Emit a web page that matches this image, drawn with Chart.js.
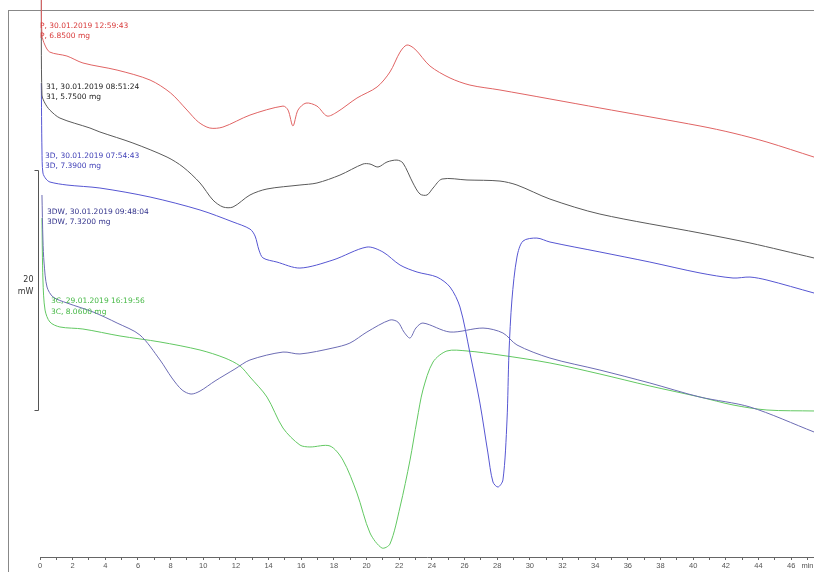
<!DOCTYPE html>
<html>
<head>
<meta charset="utf-8">
<script src="https://cdn.jsdelivr.net/npm/chart.js@4.4.1/dist/chart.umd.min.js"></script>
<style>
    html, body { margin: 0; padding: 0; background: #fff; }
    #frame { position: absolute; left: 8px; top: 10px; width: 805px; height: 561px; border-left: 1px solid #888; border-top: 1px solid #888; }
    #chart_container { position: absolute; left: 0; top: 0; width: 814px; height: 572px; }
</style>
</head>
<body>
<div id="frame"></div>
<div id="chart_container">
    <canvas id="dsc_chart" width="814" height="572"></canvas>
</div>
<script>
    // time in min, heat flow in mW (offset per curve as in the instrument plot)
    const curveP = [
        [0.08, 47.5], [0.12, 43.5], [0.3, 42.67], [0.6, 42.08], [1.65, 41.75], [2.63, 41.17],
        [4.72, 40.58], [6.74, 39.75], [8.0, 38.67], [9.0, 37.25], [9.7, 36.25], [10.4, 35.75],
        [11.2, 35.83], [12.86, 36.83], [14.88, 37.58], [15.19, 37.25], [15.49, 35.92], [15.8, 37.25],
        [16.29, 37.83], [16.96, 37.58], [17.58, 36.75], [18.19, 37.08], [19.41, 38.25], [20.64, 39.17],
        [21.43, 40.42], [22.05, 42.08], [22.47, 42.67], [22.96, 42.33], [23.88, 40.92], [25.11, 39.92],
        [26.33, 39.33], [28.17, 38.92], [34.29, 37.42], [40.42, 35.92], [42.44, 35.33], [44.52, 34.58],
        [47.4, 33.33]
    ];
    const curve31 = [
        [0.08, 47.5], [0.12, 38.5], [0.3, 37.83], [0.6, 37.25], [1.22, 36.58], [3.06, 35.75],
        [3.67, 35.42], [5.69, 34.5], [7.78, 33.33], [8.76, 32.5], [9.8, 31.17], [10.59, 29.75],
        [11.21, 29.17], [11.82, 29.17], [12.86, 30.17], [13.9, 30.67], [15.92, 31.0], [16.96, 31.17],
        [18.37, 31.83], [19.78, 32.75], [20.21, 32.75], [20.7, 32.5], [21.25, 32.92], [21.86, 33.08],
        [22.23, 32.83], [22.84, 31.17], [23.27, 30.25], [23.7, 30.17], [24.07, 30.75], [24.62, 31.5],
        [26.15, 31.42], [28.17, 31.33], [29.21, 31.0], [31.23, 29.83], [34.29, 28.58], [40.42, 27.0],
        [43.48, 26.17], [47.4, 24.92]
    ];
    const curve3D = [
        [0.08, 39.5], [0.12, 33.92], [0.18, 32.0], [0.37, 31.5], [0.61, 31.25], [1.65, 31.0],
        [3.67, 30.75], [6.74, 30.0], [9.8, 28.92], [11.82, 27.92], [12.86, 27.33], [13.17, 26.75],
        [13.41, 25.58], [13.66, 24.92], [14.51, 24.58], [15.92, 24.08], [17.94, 24.75], [20.02, 25.83],
        [21.0, 25.42], [22.05, 24.33], [23.09, 23.75], [24.31, 23.33], [25.11, 22.5], [25.72, 20.83],
        [26.33, 17.0], [26.94, 12.83], [27.43, 8.67], [27.74, 6.25], [28.05, 5.83], [28.35, 6.42],
        [28.6, 11.42], [28.72, 17.0], [28.9, 21.42], [29.21, 25.0], [29.58, 26.33], [30.43, 26.58],
        [31.23, 26.25], [34.29, 25.42], [37.35, 24.58], [40.42, 23.67], [42.44, 23.25], [43.48, 23.33],
        [44.52, 23.08], [47.4, 22.0]
    ];
    const curve3DW = [
        [0.12, 30.17], [0.18, 26.42], [0.25, 24.5], [0.43, 22.5], [0.8, 21.67], [1.65, 21.17],
        [3.25, 20.42], [4.72, 19.5], [6.12, 18.5], [7.35, 16.42], [8.08, 14.92], [8.7, 13.92],
        [9.25, 13.58], [9.8, 13.83], [10.72, 14.67], [11.94, 15.67], [12.86, 16.42], [14.88, 17.08],
        [15.92, 16.92], [17.94, 17.42], [18.98, 17.83], [20.02, 18.75], [21.43, 19.75], [21.92, 19.58],
        [22.29, 18.75], [22.66, 18.25], [23.02, 19.08], [23.45, 19.5], [25.11, 18.75], [27.13, 19.08],
        [28.35, 18.67], [29.21, 17.67], [31.23, 16.58], [34.29, 15.58], [37.35, 14.5], [40.42, 13.33],
        [43.48, 12.5], [47.4, 10.42]
    ];
    const curve3C = [
        [0.12, 28.25], [0.18, 23.08], [0.31, 20.58], [0.61, 19.58], [1.22, 19.17], [2.63, 19.0],
        [4.9, 18.42], [7.35, 17.92], [9.8, 17.25], [11.33, 16.58], [12.25, 15.92], [12.86, 15.0],
        [13.9, 13.33], [14.88, 10.75], [15.92, 9.33], [16.53, 9.17], [17.76, 9.25], [18.55, 8.08],
        [19.41, 5.33], [20.21, 2.0], [20.94, 0.75], [21.43, 1.08], [22.05, 4.17], [22.66, 8.08],
        [23.09, 11.42], [23.45, 13.92], [24.07, 16.25], [24.92, 17.17], [26.15, 17.17], [28.17, 16.83],
        [31.23, 16.17], [34.29, 15.25], [37.35, 14.25], [40.42, 13.33], [42.44, 12.67], [44.52, 12.25],
        [47.4, 12.17]
    ];

    const tickMinutes = [0, 1, 2, 3, 4, 5, 6, 7, 8, 9, 10, 11, 12, 13, 14, 15, 16, 17, 18, 19, 20, 21, 22, 23,
        24, 25, 26, 27, 28, 29, 30, 31, 32, 33, 34, 35, 36, 37, 38, 39, 40, 41, 42, 43, 44, 45, 46, 47];
    const labelledMinutes = [0, 2, 4, 6, 8, 10, 12, 14, 16, 18, 20, 22, 24, 26, 28, 30, 32, 34, 36, 38, 40, 42, 44, 46];
    const unitLabel = 'min';

    const curveLabels = [
        { lines: ['P, 30.01.2019 12:59:43', 'P, 6.8500 mg'], color: '#d83a3a', at: [0.0, 44.25] },
        { lines: ['31, 30.01.2019 08:51:24', '31, 5.7500 mg'], color: '#222222', at: [0.37, 39.17] },
        { lines: ['3D, 30.01.2019 07:54:43', '3D, 7.3900 mg'], color: '#4242b8', at: [0.31, 33.42] },
        { lines: ['3DW, 30.01.2019 09:48:04', '3DW, 7.3200 mg'], color: '#33338c', at: [0.43, 28.75] },
        { lines: ['3C, 29.01.2019 16:19:56', '3C, 8.0600 mg'], color: '#45b845', at: [0.67, 21.33] }
    ];
    const scaleBar = { from: 12.25, span: 20, text: ['20', 'mW'] };

    const toPoints = arr => arr.map(p => ({ x: p[0], y: p[1] }));

    const annotations = {
        id: 'annotations',
        afterDraw(chart) {
            const ctx = chart.ctx;
            const xs = chart.scales.x;
            const ys = chart.scales.y;
            ctx.save();
            ctx.font = '7.5px "DejaVu Sans"';
            ctx.textBaseline = 'middle';
            ctx.textAlign = 'left';
            curveLabels.forEach(l => {
                const px = xs.getPixelForValue(l.at[0]);
                const py = ys.getPixelForValue(l.at[1]);
                ctx.fillStyle = l.color;
                l.lines.forEach((t, i) => ctx.fillText(t, px, py + i * 10.5));
            });
            // 20 mW scale bar
            const bx = Math.round(xs.getPixelForValue(0)) - 1.5;
            const top = Math.round(ys.getPixelForValue(scaleBar.from + scaleBar.span)) + 0.5;
            const bottom = Math.round(ys.getPixelForValue(scaleBar.from)) + 0.5;
            ctx.strokeStyle = '#555';
            ctx.lineWidth = 1;
            ctx.beginPath();
            ctx.moveTo(bx - 4, top);
            ctx.lineTo(bx, top);
            ctx.lineTo(bx, bottom);
            ctx.lineTo(bx - 4, bottom);
            ctx.stroke();
            const mid = (top + bottom) / 2;
            ctx.fillStyle = '#333';
            ctx.textAlign = 'right';
            ctx.font = '8px "DejaVu Sans"';
            ctx.fillText(scaleBar.text[0], bx - 5, mid - 11);
            ctx.fillText(scaleBar.text[1], bx - 5, mid + 1);
            ctx.restore();
        }
    };

    const line = (data, color) => ({
        data: toPoints(data),
        borderColor: color,
        borderWidth: 1,
        pointRadius: 0,
        fill: false,
        tension: 0.3
    });

    new Chart(document.getElementById('dsc_chart'), {
        type: 'line',
        data: {
            datasets: [
                line(curveP, '#e06464'),
                line(curve31, '#5a5a5a'),
                line(curve3D, '#5656d2'),
                line(curve3DW, '#6c6cb4'),
                line(curve3C, '#62c862')
            ]
        },
        plugins: [annotations],
        options: {
            responsive: false,
            animation: false,
            layout: { padding: { left: 40, right: 0, top: 0, bottom: 0 } },
            plugins: { legend: { display: false }, tooltip: { enabled: false } },
            scales: {
                x: {
                    type: 'linear',
                    min: 0,
                    max: 47.4,
                    afterBuildTicks: scale => {
                        scale.ticks = tickMinutes.map(v => ({ value: v }));
                    },
                    afterFit: scale => {
                        scale.height = 15;
                        scale.paddingLeft = 0;
                        scale.paddingRight = 0;
                    },
                    grid: { drawOnChartArea: false, drawTicks: true, tickLength: 3, color: '#666' },
                    border: { display: true, color: '#666', width: 1 },
                    ticks: {
                        autoSkip: false,
                        maxRotation: 0,
                        padding: 1,
                        color: '#555',
                        font: { family: 'Liberation Sans', size: 7.5 },
                        callback: value => {
                            if (labelledMinutes.includes(value)) return String(value);
                            if (value === tickMinutes[tickMinutes.length - 1]) return unitLabel;
                            return '';
                        }
                    }
                },
                y: {
                    display: false,
                    min: 0,
                    max: 46.42
                }
            }
        }
    });
</script>
</body>
</html>
